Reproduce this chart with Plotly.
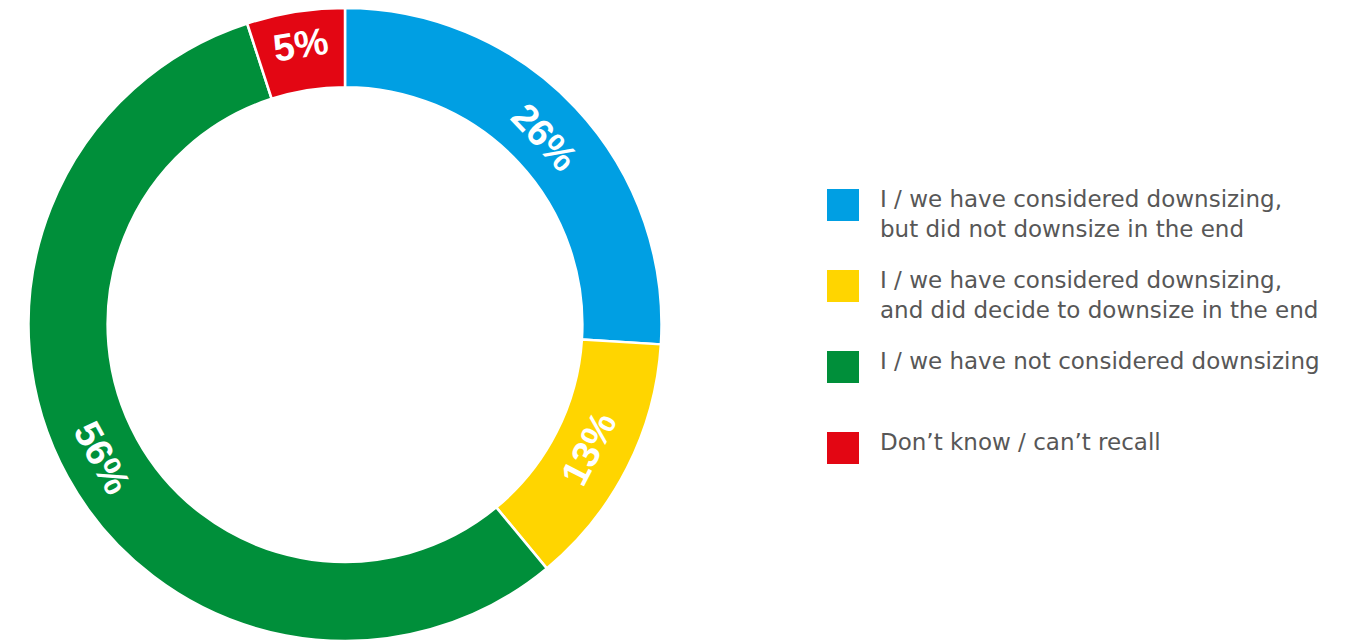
import math
import plotly.graph_objects as go

categories = [
    "I / we have considered downsizing,<br>but did not downsize in the end",
    "I / we have considered downsizing,<br>and did decide to downsize in the end",
    "I / we have not considered downsizing",
    "Don\u2019t know / can\u2019t recall",
]
values = [26, 13, 56, 5]
colors = ["#009FE3", "#FFD500", "#008F3A", "#E30613"]

# page offset of the plot div (browser body margin)
OFF = 8
W, H = 1368 - OFF, 641 - OFF

CX, R = 345 - OFF, H / 2.0  # pie center x (figure px), radius
HOLE = 0.75
LABEL_FONT = dict(family="Liberation Sans", size=38, color="white", weight="bold")

# the largest slice gets its label placed by annotation (plotly centres >50% slices at the bottom)
big = values.index(max(values))
textpos = ["inside" if i != big else "none" for i in range(len(values))]

fig = go.Figure()
fig.add_trace(go.Pie(
    values=values,
    labels=categories,
    sort=False,
    direction="clockwise",
    rotation=0,
    hole=HOLE,
    marker=dict(colors=colors, line=dict(color="white", width=2.5)),
    texttemplate="%{value}%",
    textposition=textpos,
    insidetextorientation="tangential",
    textfont=LABEL_FONT,
    domain=dict(x=[(CX - R) / W, (CX + R) / W], y=[0, 1]),
    showlegend=False,
    hoverinfo="label+value",
))

# label for the big slice at its mid-angle, tangential
total = sum(values)
start = sum(values[:big]) / total * 360
theta = start + values[big] / total * 360 / 2  # clockwise from top, degrees
rmid = R * (1 + HOLE) / 2
cy = H / 2.0
lx = CX + rmid * math.sin(math.radians(theta))
ly = cy - rmid * math.cos(math.radians(theta))
fig.add_annotation(xref="paper", yref="paper", x=lx / W, y=1 - ly / H,
                   xanchor="center", yanchor="middle", showarrow=False,
                   text=f"{values[big]}%", textangle=theta - 180, font=LABEL_FONT)

# Custom legend (large squares + text)
sq_tops = [189, 270, 351, 432]
sq_x0, sq_size, txt_x = 827, 32, 878
for cat, col, top in zip(categories, colors, sq_tops):
    t = top - OFF
    fig.add_shape(type="rect", xref="paper", yref="paper",
                  x0=(sq_x0 - OFF) / W, x1=(sq_x0 - OFF + sq_size) / W,
                  y0=1 - (t + sq_size) / H, y1=1 - t / H,
                  fillcolor=col, line=dict(width=0))
    fig.add_annotation(xref="paper", yref="paper", x=(txt_x - OFF) / W, y=1 - (t - 5) / H,
                       xanchor="left", yanchor="top", align="left", showarrow=False,
                       text=cat, font=dict(family="DejaVu Sans", size=23, color="#575757"))

fig.update_layout(
    width=W, height=H,
    margin=dict(l=0, r=0, t=0, b=0),
    paper_bgcolor="white", plot_bgcolor="white",
)

fig.write_html("out.html")
